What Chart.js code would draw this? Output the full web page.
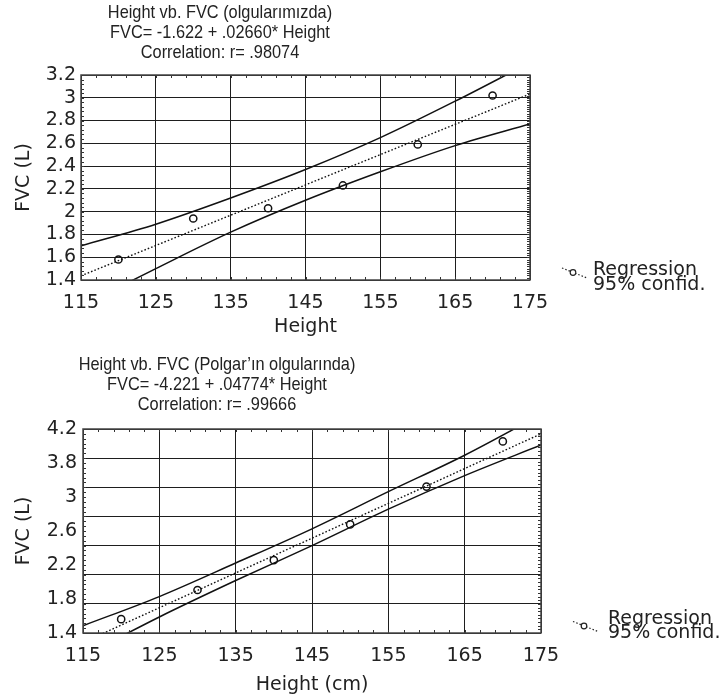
<!DOCTYPE html>
<html>
<head>
<meta charset="utf-8">
<script src="https://cdn.jsdelivr.net/npm/chart.js@4.4.1/dist/chart.umd.min.js"></script>
<style>
  html, body { margin: 0; padding: 0; background: #fff; }
  #wrap { position: relative; width: 722px; height: 697px; }
  canvas { position: absolute; left: 0; }
  #own { top: 0; }
  #polgar { top: 340px; }
</style>
</head>
<body>
<div id="wrap">
  <canvas id="own" width="722" height="340"></canvas>
  <canvas id="polgar" width="722" height="357"></canvas>
</div>
<script>
// measured cases
const heights = [120, 130, 140, 150, 160, 170];
const fvcOwn = [1.58, 1.94, 2.03, 2.23, 2.59, 3.02];
const fvcPolgar = [1.59, 1.99, 2.40, 2.89, 3.41, 4.03];

// fitted lines at the axis ends
const regHeights = [115, 175];
const regOwn = [1.437, 3.033];     // -1.622 + .02660 * Height
const regPolgar = [1.269, 4.134];  // -4.221 + .04774 * Height

// 95% confidence band
const bandHeights = [115, 125, 135, 145, 155, 165, 175];
const upperOwn = [1.70, 1.89, 2.12, 2.37, 2.65, 2.97, 3.31];
const lowerOwn = [1.17, 1.50, 1.82, 2.10, 2.35, 2.58, 2.77];
const upperPolgar = [1.50, 1.90, 2.36, 2.83, 3.34, 3.84, 4.40];
const lowerPolgar = [1.08, 1.62, 2.12, 2.60, 3.10, 3.56, 3.98];

// axes
const xTicks = [115, 125, 135, 145, 155, 165, 175];
const yTicksOwn = [1.4, 1.6, 1.8, 2, 2.2, 2.4, 2.6, 2.8, 3, 3.2];
const yGridPolgar = [1.4, 1.8, 2.2, 2.6, 3, 3.4, 3.8, 4.2];
const yLabelsPolgar = ['1.4', '1.8', '2.2', '2.6', '3', '3.8', '4.2'];

const titleOwn = ['Height vb. FVC (olgularımızda)', 'FVC= -1.622 + .02660* Height', 'Correlation: r= .98074'];
const titlePolgar = ['Height vb. FVC (Polgar’ın olgularında)', 'FVC= -4.221 + .04774* Height', 'Correlation: r= .99666'];
const legendLabels = ['Regression', '95% confid.'];

const ink = '#222';
const tickFont = { family: 'DejaVu Sans', size: 19 };
const labelFont = { family: 'DejaVu Sans', size: 19 };

const pts = (xs, ys) => xs.map((x, i) => ({ x: x, y: ys[i] }));

// frame round the plot with small inner ticks
const framePlugin = {
  id: 'frame',
  afterDatasetsDraw(chart, args, o) {
    const { ctx, chartArea: a, scales } = chart;
    const x = scales.x, y = scales.y;
    ctx.save();
    ctx.strokeStyle = '#333';
    ctx.lineWidth = 1;
    ctx.beginPath();
    let n = Math.round((x.max - x.min) / o.xStep);
    for (let i = 1; i < n; i++) {
      const px = Math.round(x.getPixelForValue(x.min + i * o.xStep)) + 0.5;
      ctx.moveTo(px, a.top); ctx.lineTo(px, a.top + o.len);
      ctx.moveTo(px, a.bottom); ctx.lineTo(px, a.bottom - o.len);
    }
    n = Math.round((y.max - y.min) / o.yLeftStep);
    for (let i = 1; i < n; i++) {
      const py = Math.round(y.getPixelForValue(y.min + i * o.yLeftStep)) + 0.5;
      ctx.moveTo(a.left, py); ctx.lineTo(a.left + o.len, py);
    }
    n = Math.round((y.max - y.min) / o.yRightStep);
    for (let i = 1; i < n; i++) {
      const py = Math.round(y.getPixelForValue(y.min + i * o.yRightStep)) + 0.5;
      ctx.moveTo(a.right, py); ctx.lineTo(a.right - o.len, py);
    }
    ctx.stroke();
    ctx.lineWidth = 1.5;
    ctx.strokeStyle = '#444';
    ctx.strokeRect(a.left, a.top, a.right - a.left, a.bottom - a.top);
    ctx.restore();
  }
};

// three-line heading (narrowed sans) and the small key on the right
const captionPlugin = {
  id: 'caption',
  afterDraw(chart, args, o) {
    const ctx = chart.ctx;
    ctx.save();
    ctx.fillStyle = ink;
    ctx.textAlign = 'center';
    ctx.textBaseline = 'middle';
    ctx.font = '19px "Liberation Sans"';
    ctx.save();
    ctx.translate(o.titleX, o.titleY);
    ctx.scale(0.86, 1);
    o.lines.forEach((line, i) => ctx.fillText(line, 0, i * 20));
    ctx.restore();

    const k = o.key;
    ctx.strokeStyle = ink;
    ctx.lineWidth = 1.2;
    ctx.setLineDash([1.5, 2]);
    ctx.beginPath();
    ctx.moveTo(k.x, k.y);
    ctx.lineTo(k.x + 25, k.y + 10);
    ctx.stroke();
    ctx.setLineDash([]);
    ctx.fillStyle = '#fff';
    ctx.beginPath();
    ctx.arc(k.x + 11, k.y + 4.5, 2.8, 0, Math.PI * 2);
    ctx.fill();
    ctx.stroke();
    ctx.fillStyle = ink;
    ctx.textAlign = 'left';
    ctx.textBaseline = 'alphabetic';
    ctx.font = '19px "DejaVu Sans"';
    ctx.fillText(legendLabels[0], k.textX, k.base);
    ctx.fillText(legendLabels[1], k.textX, k.base + 14.5);
    ctx.restore();
  }
};

function datasets(fvc, reg, upper, lower) {
  const band = {
    showLine: true, borderColor: '#111', borderWidth: 1.5,
    pointRadius: 0, cubicInterpolationMode: 'monotone'
  };
  return [
    Object.assign({ label: legendLabels[1], data: pts(bandHeights, upper) }, band),
    Object.assign({ label: legendLabels[1], data: pts(bandHeights, lower) }, band),
    {
      label: legendLabels[0], data: pts(regHeights, reg), showLine: true,
      borderColor: '#111', borderWidth: 1.4, borderDash: [1.6, 2], pointRadius: 0
    },
    {
      label: 'FVC', data: pts(heights, fvc), showLine: false,
      pointRadius: 3.6, pointBorderWidth: 1.5, pointBorderColor: '#111',
      pointBackgroundColor: 'rgba(0,0,0,0)'
    }
  ];
}

function xScale(height, pad, title, titlePad) {
  return {
    type: 'linear', min: 115, max: 175,
    afterBuildTicks: s => { s.ticks = xTicks.map(v => ({ value: v })); },
    afterFit: s => { s.height = height; },
    grid: { color: '#1e1e1e', lineWidth: 1, drawTicks: false },
    border: { display: false },
    ticks: { font: tickFont, color: ink, padding: pad, maxRotation: 0, autoSkip: false },
    title: { display: true, text: title, font: labelFont, color: ink, padding: { top: 0, bottom: titlePad } }
  };
}

const yTitle = { display: true, text: 'FVC (L)', font: labelFont, color: ink, padding: { top: 13, bottom: 0 } };

// own cases
new Chart(document.getElementById('own'), {
  type: 'scatter',
  data: { datasets: datasets(fvcOwn, regOwn, upperOwn, lowerOwn) },
  plugins: [framePlugin, captionPlugin],
  options: {
    responsive: false, animation: false, devicePixelRatio: 1,
    layout: { padding: { top: 75, right: 192, left: 0, bottom: 0 } },
    scales: {
      x: xScale(60, 12, 'Height', 2),
      y: {
        type: 'linear', min: 1.4, max: 3.2,
        afterBuildTicks: s => { s.ticks = yTicksOwn.map(v => ({ value: v })); },
        afterFit: s => { s.width = 81; },
        grid: { color: '#1e1e1e', lineWidth: 1, drawTicks: false },
        border: { display: false },
        ticks: { font: tickFont, color: ink, padding: 5, autoSkip: false, callback: v => String(v) },
        title: yTitle
      }
    },
    plugins: {
      legend: { display: false },
      tooltip: { enabled: false },
      frame: { xStep: 2, yLeftStep: 0.04, yRightStep: 0.02, len: 3 },
      caption: {
        lines: titleOwn, titleX: 220, titleY: 13,
        key: { x: 562, y: 268, textX: 593, base: 275 }
      }
    }
  }
});

// Polgar's cases
new Chart(document.getElementById('polgar'), {
  type: 'scatter',
  data: { datasets: datasets(fvcPolgar, regPolgar, upperPolgar, lowerPolgar) },
  plugins: [framePlugin, captionPlugin],
  options: {
    responsive: false, animation: false, devicePixelRatio: 1,
    layout: { padding: { top: 89, right: 181, left: 0, bottom: 0 } },
    scales: {
      x: xScale(64, 12, 'Height (cm)', 1),
      y: {
        type: 'linear', min: 1.4, max: 4.2,
        afterBuildTicks: s => { s.ticks = yGridPolgar.map(v => ({ value: v })); },
        afterFit: s => { s.width = 0; },
        grid: { color: '#1e1e1e', lineWidth: 1, drawTicks: false },
        border: { display: false },
        ticks: { display: false }
      },
      yLab: {
        type: 'linear', position: 'left', min: 1.4, max: 4.2,
        afterBuildTicks: s => {
          const step = (s.max - s.min) / (yLabelsPolgar.length - 1);
          s.ticks = yLabelsPolgar.map((t, i) => ({ value: s.min + i * step }));
        },
        afterFit: s => { s.width = 83; },
        grid: { display: false, drawTicks: false },
        border: { display: false },
        ticks: { font: tickFont, color: ink, padding: 6, autoSkip: false, callback: (v, i) => yLabelsPolgar[i] },
        title: yTitle
      }
    },
    plugins: {
      legend: { display: false },
      tooltip: { enabled: false },
      frame: { xStep: 2, yLeftStep: 0.4 / 6, yRightStep: 0.05, len: 3 },
      caption: {
        lines: titlePolgar, titleX: 217, titleY: 25,
        key: { x: 573, y: 281.5, textX: 608, base: 283.5 }
      }
    }
  }
});
</script>
</body>
</html>
